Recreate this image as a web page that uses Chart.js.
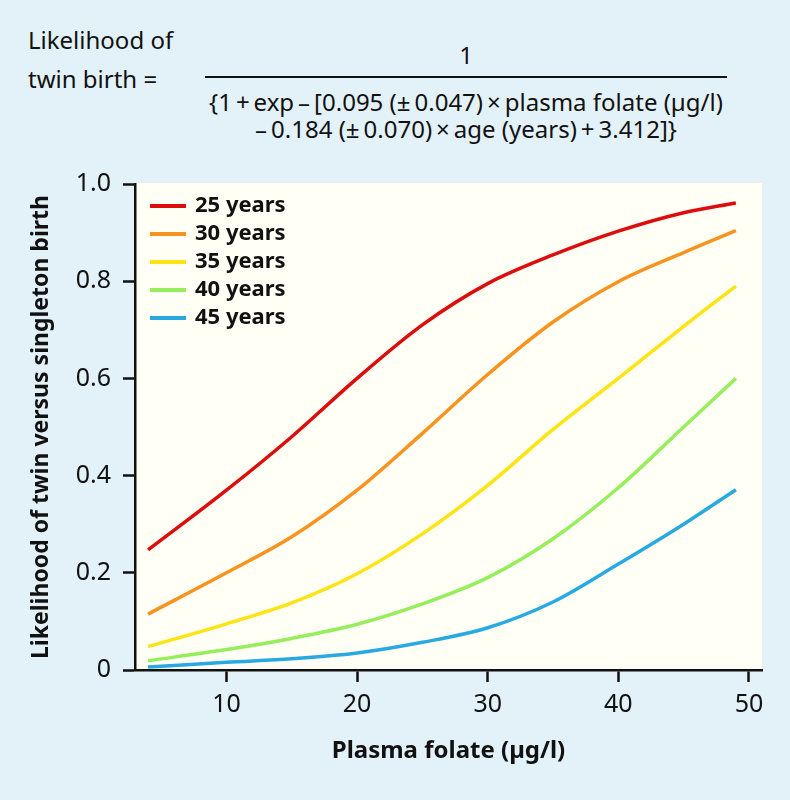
<!DOCTYPE html>
<html>
<head>
<meta charset="utf-8">
<script src="https://cdn.jsdelivr.net/npm/chart.js@4"></script>
<style>
  html, body { margin: 0; padding: 0; background: #e3f2f8; }
  #wrap { position: relative; width: 790px; height: 800px; font-family: 'Noto Sans', sans-serif; color: #111; }
  #wrap canvas { position: absolute; left: 0; top: 0; }
  .f { position: absolute; font-size: 24px; line-height: 24px; white-space: nowrap; }
  .c { left: 185px; width: 562px; text-align: center; }
  #bar { position: absolute; left: 205px; top: 76px; width: 522px; height: 2px; background: #111; }
</style>
</head>
<body>
<div id="wrap">
  <div class="f" style="left:28px; top:28px;">Likelihood of</div>
  <div class="f" style="left:28px; top:67px;">twin birth =</div>
  <div class="f c" style="top:43px;">1</div>
  <div id="bar"></div>
  <div class="f c" style="top:90px;">{1&thinsp;+&thinsp;exp&thinsp;–&thinsp;[0.095 (±&thinsp;0.047)&thinsp;×&thinsp;plasma folate (µg/l)</div>
  <div class="f c" style="top:117px;">–&thinsp;0.184 (±&thinsp;0.070)&thinsp;×&thinsp;age (years)&thinsp;+&thinsp;3.412]}</div>
  <canvas id="twinChart" width="790" height="800"></canvas>
</div>
<script>
// plasma folate (µg/l) where the curves were read
const folate = [4, 10, 15, 20, 25, 30, 35, 40, 45, 49];

// likelihood of twin birth for each maternal age
const age25 = [0.247, 0.37, 0.48, 0.60, 0.71, 0.795, 0.854, 0.903, 0.941, 0.961];
const age30 = [0.115, 0.20, 0.274, 0.37, 0.487, 0.608, 0.716, 0.799, 0.859, 0.904];
const age35 = [0.048, 0.095, 0.138, 0.198, 0.28, 0.38, 0.495, 0.60, 0.707, 0.79];
const age40 = [0.019, 0.042, 0.065, 0.094, 0.136, 0.19, 0.27, 0.375, 0.50, 0.60];
const age45 = [0.006, 0.016, 0.023, 0.035, 0.057, 0.087, 0.14, 0.218, 0.30, 0.371];

const seriesLabels = ['25 years', '30 years', '35 years', '40 years', '45 years'];
const seriesData = [age25, age30, age35, age40, age45];
const seriesColors = ['#dc0d0d', '#f7931e', '#ffe414', '#97ee5c', '#29a9e1'];

const xTicks = [10, 20, 30, 40, 50];
const yTicks = [0, 0.2, 0.4, 0.6, 0.8, 1.0];

const plotBackground = {
    id: 'plotBackground',
    beforeDraw(chart) {
        const {ctx, chartArea} = chart;
        ctx.save();
        ctx.fillStyle = '#fffff5';
        ctx.fillRect(chartArea.left, chartArea.top - 1, chartArea.right - chartArea.left, chartArea.bottom - chartArea.top + 1);
        ctx.restore();
    }
};

// legend drawn inside the plot, top left
const insideLegend = {
    id: 'insideLegend',
    afterDatasetsDraw(chart) {
        const {ctx, chartArea} = chart;
        ctx.save();
        ctx.font = 'bold 22px "Noto Sans"';
        ctx.textBaseline = 'middle';
        chart.data.datasets.forEach((ds, i) => {
            const y = chartArea.top + 22 + i * 28;
            const x = chartArea.left + 15;
            ctx.fillStyle = ds.borderColor;
            ctx.fillRect(x, y - 2, 36, 4);
            ctx.fillStyle = '#111';
            ctx.fillText(ds.label, x + 45, y);
        });
        ctx.restore();
    }
};

const ctx = document.getElementById('twinChart').getContext('2d');
const twinChart = new Chart(ctx, {
    type: 'line',
    data: {
        datasets: seriesData.map((values, i) => ({
            label: seriesLabels[i],
            data: folate.map((f, j) => ({x: f, y: values[j]})),
            borderColor: seriesColors[i],
            backgroundColor: seriesColors[i],
            borderWidth: 3.5,
            pointRadius: 0,
            cubicInterpolationMode: 'monotone',
            fill: false
        }))
    },
    options: {
        responsive: false,
        animation: false,
        layout: {
            padding: {top: 184, right: 28, left: 0, bottom: 0}
        },
        scales: {
            x: {
                type: 'linear',
                min: 3,
                max: 51,
                afterFit: (scale) => { scale.height = 130; },
                afterBuildTicks: (scale) => { scale.ticks = xTicks.map(v => ({value: v})); },
                border: {color: '#111', width: 2.5},
                grid: {drawOnChartArea: false, drawTicks: true, tickLength: 12, tickWidth: 2.5, tickColor: '#111'},
                ticks: {
                    color: '#111',
                    padding: 8,
                    maxRotation: 0,
                    font: {family: 'Noto Sans', size: 25}
                },
                title: {
                    display: true,
                    text: 'Plasma folate (µg/l)',
                    color: '#111',
                    padding: {top: 0, bottom: 34},
                    font: {family: 'Noto Sans', size: 24, weight: 'bold'}
                }
            },
            y: {
                min: 0,
                max: 1,
                afterFit: (scale) => { scale.width = 135; },
                afterBuildTicks: (scale) => { scale.ticks = yTicks.map(v => ({value: v})); },
                border: {color: '#111', width: 2.5},
                grid: {drawOnChartArea: false, drawTicks: true, tickLength: 12, tickWidth: 2.5, tickColor: '#111'},
                ticks: {
                    color: '#111',
                    padding: 12,
                    font: {family: 'Noto Sans', size: 25},
                    callback: (v) => v === 0 ? '0' : v.toFixed(1)
                },
                title: {
                    display: true,
                    text: 'Likelihood of twin versus singleton birth',
                    color: '#111',
                    padding: {top: 28, bottom: 0},
                    font: {family: 'Noto Sans', size: 23, weight: 'bold'}
                }
            }
        },
        plugins: {
            legend: {display: false},
            tooltip: {enabled: false}
        }
    },
    plugins: [plotBackground, insideLegend]
});
</script>
</body>
</html>
